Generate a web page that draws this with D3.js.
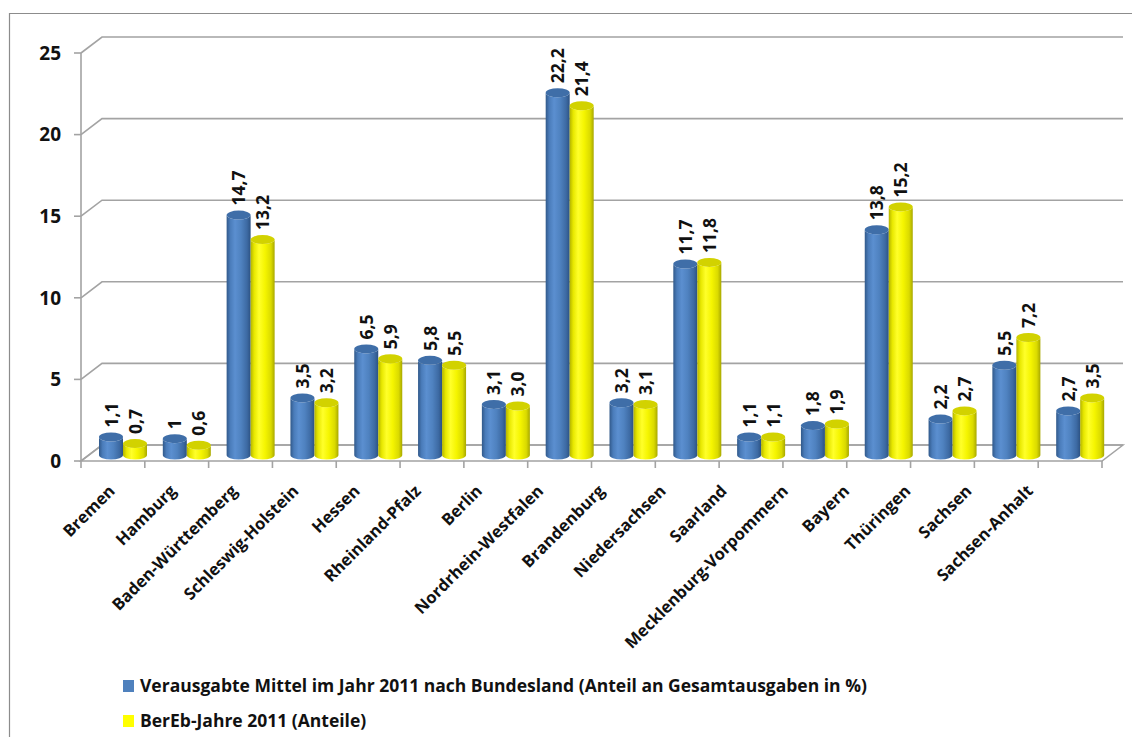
<!DOCTYPE html>
<html>
<head>
<meta charset="utf-8">
<script src="https://cdn.jsdelivr.net/npm/d3@7"></script>
<style>
  body { margin: 0; background: #fff; }
  svg { display: block; font-family: "Open Sans", sans-serif; }
</style>
</head>
<body>
<div id="chart"></div>
<script>
// Data
const laender = ['Bremen', 'Hamburg', 'Baden-Württemberg', 'Schleswig-Holstein', 'Hessen',
  'Rheinland-Pfalz', 'Berlin', 'Nordrhein-Westfalen', 'Brandenburg', 'Niedersachsen',
  'Saarland', 'Mecklenburg-Vorpommern', 'Bayern', 'Thüringen', 'Sachsen', 'Sachsen-Anhalt'];
const mittel = [1.1, 1, 14.7, 3.5, 6.5, 5.8, 3.1, 22.2, 3.2, 11.7, 1.1, 1.8, 13.8, 2.2, 5.5, 2.7];
const mittelLabels = ['1,1', '1', '14,7', '3,5', '6,5', '5,8', '3,1', '22,2', '3,2', '11,7', '1,1', '1,8', '13,8', '2,2', '5,5', '2,7'];
const bereb = [0.7, 0.6, 13.2, 3.2, 5.9, 5.5, 3.0, 21.4, 3.1, 11.8, 1.1, 1.9, 15.2, 2.7, 7.2, 3.5];
const berebLabels = ['0,7', '0,6', '13,2', '3,2', '5,9', '5,5', '3,0', '21,4', '3,1', '11,8', '1,1', '1,9', '15,2', '2,7', '7,2', '3,5'];
const seriesNames = ['Verausgabte Mittel im Jahr 2011 nach Bundesland (Anteil an Gesamtausgaben in %)',
  'BerEb-Jahre 2011 (Anteile)'];
const yTicks = [0, 5, 10, 15, 20, 25];

const width = 1132, height = 737;
const svg = d3.select('#chart').append('svg').attr('width', width).attr('height', height);

// outer frame (right and bottom edges are cut off in the original)
svg.append('path').attr('d', `M9.5,${height + 5}V13.5H${width + 5}`)
  .attr('fill', 'none').attr('stroke', '#8c8c8c').attr('stroke-width', 1.2);

// 3D geometry
const left = 81, right = 1102;
const depthX = 21, depthY = -16;     // back wall offset
const barDX = 8, barDY = -6;         // bars stand a bit inside the floor
const gridColor = '#a3a3a3';

const y = d3.scaleLinear().domain([0, 25]).range([461, 53]);
const x = d3.scaleBand().domain(laender).range([left, right]);
const x1 = d3.scaleBand().domain([0, 1]).range([10, 58]);
const labelX = d3.scalePoint().domain(laender).range([116, 1034]);

const g = svg.append('g');

// floor
g.append('path')
  .attr('d', `M${left},${y(0)}L${right},${y(0)}L${right + depthX},${y(0) + depthY}L${left + depthX},${y(0) + depthY}Z`)
  .attr('fill', '#fff').attr('stroke', gridColor).attr('stroke-width', 1.5);

// back wall gridlines with diagonals to the front axis
g.selectAll('.grid').data(yTicks).join('path')
  .attr('class', 'grid')
  .attr('d', d => `M${left},${y(d)}L${left + depthX},${y(d) + depthY}H${right + depthX}`)
  .attr('fill', 'none').attr('stroke', gridColor).attr('stroke-width', 1.6);

// front y axis
g.append('line').attr('x1', left).attr('x2', left).attr('y1', y(25)).attr('y2', y(0))
  .attr('stroke', gridColor).attr('stroke-width', 1.6);
g.selectAll('.ytick').data(yTicks).join('line')
  .attr('x1', left - 7).attr('x2', left).attr('y1', d => y(d)).attr('y2', d => y(d))
  .attr('stroke', gridColor).attr('stroke-width', 1.6);
g.selectAll('.ylab').data(yTicks).join('text')
  .attr('x', 61).attr('y', d => y(d)).attr('dy', '0.36em')
  .attr('text-anchor', 'end').attr('font-size', 19).attr('font-weight', 'bold').attr('fill', '#111')
  .text(d => d);

// x ticks on the front floor edge
const xTickPos = laender.map(d => x(d)).concat([right]);
g.selectAll('.xtick').data(xTickPos).join('line')
  .attr('x1', d => d).attr('x2', d => d).attr('y1', y(0)).attr('y2', y(0) + 7)
  .attr('stroke', gridColor).attr('stroke-width', 1.6);

// gradients for cylinders
const defs = svg.append('defs');
const palettes = [
  { id: 'gBlue', stops: ['#31598a', '#4a7cba', '#5b8fd0', '#4f82c0', '#3d6aa3', '#2c5283'], top: '#3f6ea8', text: '#4f81bd' },
  { id: 'gYellow', stops: ['#b4b400', '#e8e800', '#ffff2a', '#f5f500', '#dada00', '#a8a800'], top: '#d2d200', text: '#ffff00' }
];
palettes.forEach(p => {
  const lg = defs.append('linearGradient').attr('id', p.id).attr('x1', 0).attr('x2', 1).attr('y1', 0).attr('y2', 0);
  const offs = [0, 0.15, 0.35, 0.6, 0.85, 1];
  p.stops.forEach((c, i) => lg.append('stop').attr('offset', offs[i]).attr('stop-color', c));
});

const series = [
  { values: mittel, labels: mittelLabels, pal: palettes[0] },
  { values: bereb, labels: berebLabels, pal: palettes[1] }
];
const bw = x1.bandwidth();
const rx = bw / 2, ry = 4.5;

const bars = [];
laender.forEach((c, i) => {
  series.forEach((s, j) => {
    bars.push({ cat: c, j, v: s.values[i], label: s.labels[i], pal: s.pal });
  });
});

const barG = g.selectAll('.bar').data(bars).join('g').attr('class', 'bar');
barG.append('path')
  .attr('d', d => {
    const x0 = x(d.cat) + barDX + x1(d.j);
    const yb = y(0) + barDY;
    const yt = y(d.v) + barDY;
    return `M${x0},${yt}L${x0},${yb}A${rx},${ry} 0 0 0 ${x0 + bw},${yb}L${x0 + bw},${yt}A${rx},${ry} 0 0 1 ${x0},${yt}Z`;
  })
  .attr('fill', d => `url(#${d.pal.id})`);
barG.append('ellipse')
  .attr('cx', d => x(d.cat) + barDX + x1(d.j) + rx)
  .attr('cy', d => y(d.v) + barDY)
  .attr('rx', rx).attr('ry', ry)
  .attr('fill', d => d.pal.top);

// value labels, rotated
barG.append('text')
  .attr('transform', d => {
    const cx = x(d.cat) + barDX + x1(d.j) + rx + 6.5;
    const cy = y(d.v) + barDY - ry - 5;
    return `translate(${cx},${cy}) rotate(-90)`;
  })
  .attr('font-size', 17.5).attr('font-weight', 'bold').attr('fill', '#111')
  .text(d => d.label);

// category labels
g.selectAll('.xlab').data(laender).join('text')
  .attr('transform', d => `translate(${labelX(d)},${492}) rotate(-45)`)
  .attr('text-anchor', 'end').attr('font-size', 16.5).attr('font-weight', 'bold').attr('fill', '#111')
  .text(d => d);

// legend
const legend = svg.append('g');
seriesNames.forEach((name, i) => {
  const ly = 680 + i * 35;
  legend.append('rect').attr('x', 123).attr('y', ly).attr('width', 11).attr('height', 12)
    .attr('fill', palettes[i].text);
  legend.append('text').attr('x', 140).attr('y', ly + 12)
    .attr('font-size', 17.5).attr('font-weight', 'bold').attr('fill', '#111')
    .text(name);
});
</script>
</body>
</html>
